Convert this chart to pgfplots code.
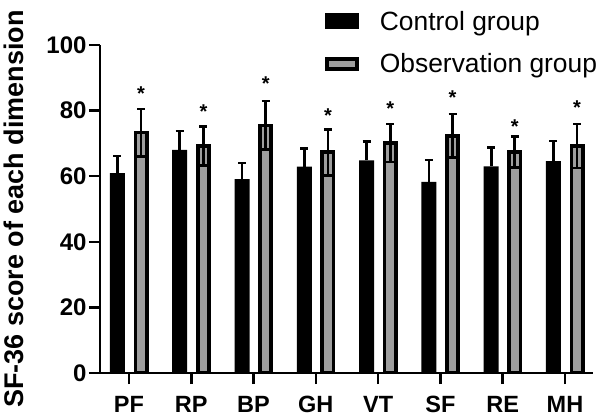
\documentclass[border=0pt]{standalone}
\usepackage{fontspec}
\setmainfont{Liberation Sans}
\usepackage{pgfplots}
\pgfplotsset{compat=1.18}
\definecolor{obsgray}{RGB}{158,158,158}
\begin{document}
\begin{tikzpicture}
\useasboundingbox (0,0) rectangle (600bp,420bp);
\begin{axis}[
  at={(100bp,47bp)}, anchor=south west,
  scale only axis, width=493bp, height=328bp,
  ybar=0pt,
  xmin=-0.465, xmax=7.45, ymin=0, ymax=100,
  axis lines*=left,
  axis on top,
  xtick={0,...,7}, xticklabels={PF,RP,BP,GH,VT,SF,RE,MH},
  ytick={0,20,...,100},
  tick align=outside, major tick length=11bp,
  tick style={line width=2.5bp, black},
  axis line style={line width=2.5bp, black},
  /pgf/number format/assume math mode=true,
  xticklabel style={font=\fontsize{23.5bp}{24bp}\selectfont\bfseries, yshift=-9bp},
  yticklabel style={font=\fontsize{24bp}{24bp}\selectfont\bfseries, xshift=1bp},
  ylabel={SF-36 score of each dimension},
  ylabel style={font=\fontsize{27bp}{28bp}\selectfont\bfseries, at={(axis description cs:-0.156,0.5)}, anchor=base, inner sep=0pt},
  legend style={at={(axis description cs:0.4497,1.11)}, anchor=north west, draw=none, fill=none,
    font=\fontsize{26.4bp}{28bp}\selectfont, row sep=22bp, column sep=21bp, nodes={inner sep=0pt}},
  legend cell align=left,
  error bars/error bar style={line width=2.7bp, black, solid},
  error bars/error mark options={rotate=90, mark size=4bp, line width=2.7bp, black},
]
\addplot[bar width=0.241, bar shift=-0.185, fill=black, draw=none,
  legend image code/.code={\fill[black] (0bp,-8bp) rectangle (34bp,8bp);},
  error bars/y dir=plus, error bars/y explicit]
coordinates {
(0,60.9) +- (0,5.3)
(1,68.0) +- (0,5.8)
(2,59.1) +- (0,4.9)
(3,62.9) +- (0,5.5)
(4,64.8) +- (0,5.8)
(5,58.3) +- (0,6.6)
(6,63.0) +- (0,5.7)
(7,64.6) +- (0,6.1)
};
\addlegendentry{Control group}
\addplot[bar width=0.181, bar shift=0.195, fill=obsgray, draw=black, line width=3.7bp,
  legend image code/.code={\draw[black, fill=obsgray, line width=4bp] (2bp,-5bp) rectangle (32bp,5bp);},
  error bars/y dir=both, error bars/y explicit]
coordinates {
(0,73.3) +- (0,7.2)
(1,69.2) +- (0,5.9)
(2,75.5) +- (0,7.4)
(3,67.3) +- (0,7.0)
(4,70.1) +- (0,5.8)
(5,72.3) +- (0,6.7)
(6,67.3) +- (0,4.7)
(7,69.2) +- (0,6.7)
};
\addlegendentry{Observation group}
\addplot[sharp plot, draw=none, only marks, mark=text, text mark={*}, text mark as node=true, forget plot,
  text mark style={font=\fontsize{20bp}{20bp}\selectfont\bfseries, yshift=-4bp, inner sep=0pt}]
coordinates {
(0.195,86.3) (1.195,80.9) (2.195,89.3) (3.195,79.6)
(4.195,81.7) (5.195,85.3) (6.195,76.4) (7.195,82.2)
};
\end{axis}
\end{tikzpicture}
\end{document}
